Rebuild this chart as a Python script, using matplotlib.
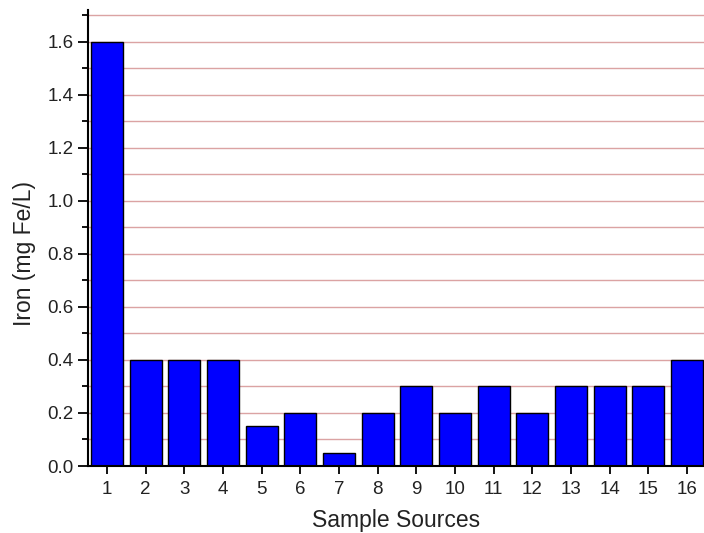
import matplotlib
matplotlib.use('Agg')
import matplotlib.pyplot as plt
import numpy as np
from matplotlib.ticker import MultipleLocator, FormatStrFormatter

# Iron concentration per sample source
sources = list(range(1, 17))
iron = [1.6, 0.4, 0.4, 0.4, 0.15, 0.2, 0.05, 0.2, 0.3, 0.2, 0.3, 0.2, 0.3, 0.3, 0.3, 0.4]

plt.rcParams['font.family'] = ['Liberation Sans', 'DejaVu Sans']

fig = plt.figure(figsize=(7.04, 5.33), dpi=100)
ax = fig.add_axes([0.125, 0.1257, 0.875, 0.8555])

ax.set_xlim(0.51, 16.44)
ax.set_ylim(0, 1.72)
ax.set_xticks(sources)
ax.yaxis.set_major_locator(MultipleLocator(0.2))
ax.yaxis.set_minor_locator(MultipleLocator(0.1))
ax.yaxis.set_major_formatter(FormatStrFormatter('%.1f'))

# pink grid line at every major and minor y tick, behind the bars
grid_levels = np.union1d(ax.get_yticks(), ax.get_yticks(minor=True))
grid_levels = grid_levels[(grid_levels > 0) & (grid_levels <= 1.72)]
ax.hlines(grid_levels, 0.51, 16.44, color='#dba3a3', linewidth=1.0, zorder=0)

ax.bar(sources, iron, width=0.83, color='#0000ff', edgecolor='black', linewidth=1.0, zorder=3)

for side in ['top', 'right']:
    ax.spines[side].set_visible(False)
for side in ['left', 'bottom']:
    ax.spines[side].set_linewidth(1.5)
    ax.spines[side].set_zorder(4)

ax.tick_params(axis='y', which='major', direction='out', length=7.5, width=1.3,
               labelsize=13.5, pad=3, labelcolor='#222222')
ax.tick_params(axis='y', which='minor', direction='out', length=4, width=1.3)
ax.tick_params(axis='x', direction='out', length=6, width=1.3,
               labelsize=13.5, pad=5, labelcolor='#222222')

ax.set_xlabel('Sample Sources', fontsize=16.5, labelpad=8, color='#222222')
ax.set_ylabel('Iron (mg Fe/L)', fontsize=16.5, color='#222222')
ax.yaxis.set_label_coords(-0.085, 0.465)

fig.savefig('out.png', dpi=100)
